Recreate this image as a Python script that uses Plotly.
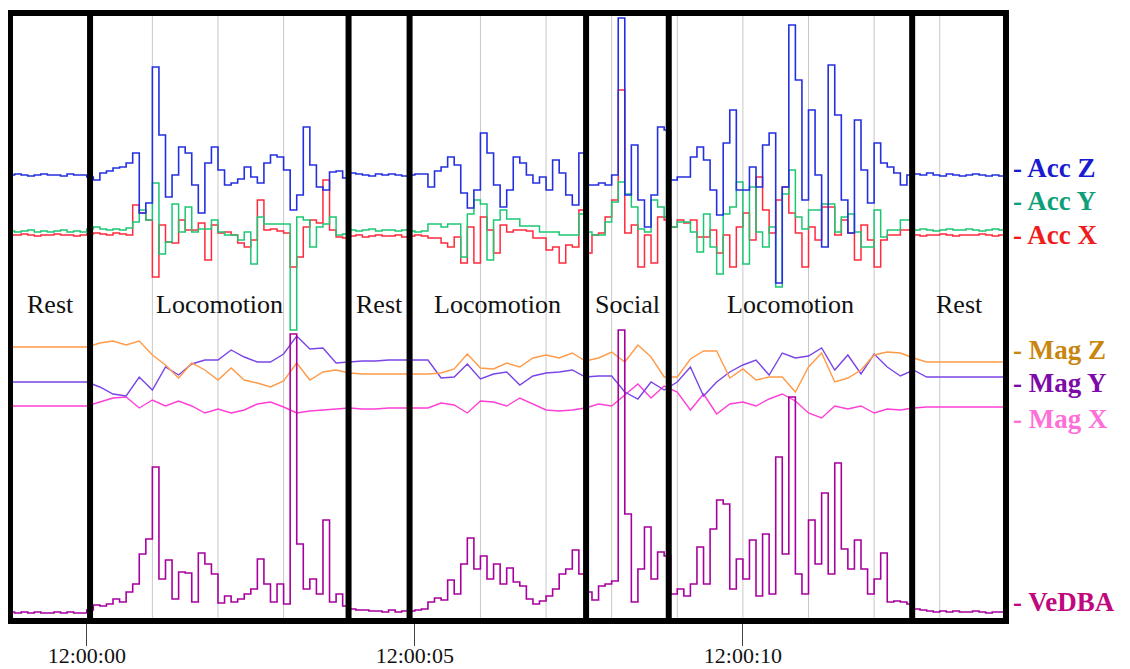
import plotly.graph_objects as go

# ---------------- data ----------------
# Fast channels sampled every 0.1 s starting at t = -1.2 s (relative to 12:00:00)
acc_z = [0, 1, 0, -1, 0, 1, 0, 0, -1, 1, 0, 0,
         -2, -5, 2, 4, 7, 8, 12, 22, -38, -28,
         108, 40, -22, 0, 28, 22, -10, -38, 12, 28,
         5, -10, -8, -4, 8, -2, -8, 12, 20, 18,
         5, -35, -20, 48, 10, -12, -15, 3, 4, -3,
         2, 1, 0, -1, 1, 0, 1, 0, -1, 0,
         1, 1, -12, 4, 8, 18, 10, -18, -33, -15,
         42, 22, -10, -32, -15, 18, 12, 0, -8, -2,
         -15, 15, 2, -20, -30, 22, -10, -10, -8, -10,
         0, 157, -20, 30, -25, -52, -20, 48, 45, -5,
         -2, -2, 18, 28, 15, -15, -40, 32, 65, -15,
         -15, 8, -12, 30, 42, -108, -12, 150, 95, -25,
         65, 0, -72, 110, 60, -25, -58, 55, 5, -28,
         32, 12, 8, 2, -10, 0,
         1, 0, 2, 0, -1, 1, 0, -1, 0, 1, 0, -1, 0, -1, -2]

acc_y = [1, 0, 1, 2, 0, 1, 0, 1, 2, 0, 1, 0,
         3, 5, 3, 2, 3, 2, 4, 10, 22, 12,
         49, -22, -10, 28, 0, 25, 0, 3, 3, 12,
         0, -3, -3, -8, 0, -32, 15, 8, 8, 8,
         8, -98, 15, 12, -15, 5, 8, 15, -3, -2,
         2, 1, 2, 3, 1, 2, 2, 1, 2, 1,
         0, 1, 8, 8, 5, 8, 8, -25, 18, 32,
         28, -28, 12, 22, 13, 13, 6, 6, 6, 0,
         0, 0, -3, -3, -3, 18, 0, -3, -3, 10,
         30, 50, 38, 25, 3, 0, 32, 25, 15, 5,
         10, 10, 0, -20, 18, -15, -42, 18, 25, 50,
         -32, 45, 0, -15, 5, -55, 38, 62, 15, 3,
         22, 22, 28, 28, 0, 15, 18, 0, -15, -15,
         22, -5, 2, 2, 12, 12,
         2, 3, 2, 1, 2, 3, 2, 2, 3, 2, 1, 2, 3, 2, 2]

acc_x = [0, 0, 1, 0, -1, 0, 0, 1, 0, 0, -1, 0,
         1, 2, 1, 0, 2, 1, 0, 30, 22, 15,
         -42, 10, -7, -8, 15, 5, 5, 12, -25, 10,
         2, 3, 0, -8, -12, -5, 35, 5, 6, 4,
         2, -32, -22, 8, 15, 12, 55, 5, -2, -3,
         -1, 0, -2, -1, 0, -1, -1, 0, -2, -1,
         0, -1, -3, -3, -8, -12, -2, -28, 8, -28,
         18, 5, -18, 10, 3, 5, 5, 4, -3, -3,
         -15, -12, -28, -10, -12, 25, -18, 0, 2, 18,
         35, 145, 2, 10, -32, 0, -28, 18, 15, 8,
         15, 12, 15, -2, -2, 5, -18, 0, -32, 8,
         22, -5, 58, 25, 2, 35, 48, 22, 2, -32,
         8, -5, 28, 28, 0, 15, 2, -25, 10, -5,
         -32, -5, 0, 0, 5, 5,
         0, -1, 0, 0, 1, 0, -1, 0, 0, 0, 1, 0, -1, 0, 0]

vedba = [2, 1, 2, 1, 2, 1, 1, 2, 1, 2, 1, 1,
         4, 9, 8, 10, 15, 12, 22, 30, 60, 75,
         147, 35, 54, 15, 42, 41, 12, 61, 50, 40,
         11, 18, 12, 15, 20, 25, 55, 30, 12, 30,
         10, 280, 70, 25, 35, 20, 94, 12, 20, 8,
         5, 4, 4, 3, 3, 2, 4, 2, 3, 3,
         4, 5, 12, 16, 14, 34, 20, 50, 76, 45,
         58, 35, 50, 30, 46, 32, 28, 15, 10, 13,
         18, 25, 40, 45, 64, 40, 22, 14, 28, 30,
         33, 284, 100, 12, 45, 87, 35, 62, 58, 20,
         25, 18, 30, 67, 30, 85, 114, 110, 25, 55,
         35, 74, 18, 80, 20, 157, 60, 217, 40, 20,
         94, 50, 121, 40, 151, 65, 45, 74, 45, 20,
         35, 61, 12, 13, 12, 10,
         5, 4, 3, 2, 3, 2, 3, 2, 2, 3, 2, 1, 2, 2, 1]

# Slow (magnetometer) channels sampled every 0.2 s starting at t = -1.2 s
mag_z = [0, 0, 0, 0, 0, 0, 0, 4, 6, 2,
         6, -8, -18, -31, -16, -23, -33, -21, -33, -36,
         -40, -34, -16, -33, -25, -23, -26, -27, -27, -27,
         -27, -27, -27, -26, -22, -7, -21, -22, -16, -20,
         -11, -8, -11, -6, -14, -11, -5, -15, 2, -10,
         -30, -30, -12, -4, -4, -31, -22, -33, -30, -30,
         -45, -20, -6, -35, -31, -23, -8, -5, -6, -11,
         -15, -15, -15, -15, -15, -15, -15]

mag_y = [0, 0, 0, 0, 0, 0, 0, -5, -12, -14,
         5, -8, 15, 7, 18, 22, 22, 32, 25, 20,
         20, 28, 46, 33, 34, 19, 20, 21, 21, 22,
         22, 22, 22, 4, 5, 18, 3, 8, 10, -3,
         6, 9, 10, 12, 5, 6, 6, -10, -17, 0,
         -8, 0, 15, -14, 0, 10, 17, 22, 7, 29,
         24, 26, 34, 12, 27, 8, 28, 15, 6, 12,
         5, 5, 5, 5, 5, 5, 5]

mag_x = [0, 0, 0, 0, 0, 0, 0, 4, 8, 9,
         -2, 6, 0, 5, 0, -7, -3, -7, -4, 2,
         4, -1, -7, -5, -4, -3, -2, -3, -3, -2,
         -2, -2, -2, 3, 1, -7, 5, 4, 0, 8,
         2, -4, -5, -4, -2, 2, 0, 11, 22, 8,
         20, 14, -4, 12, -8, 2, 4, 0, 7, 12,
         5, -7, -12, 0, -3, 0, -7, -3, -4, -2,
         -1, -1, -1, -1, -1, -1, -1]

# Behaviour segments (seconds after 12:00:00)
segment_bounds = [0.05, 3.99, 4.92, 7.61, 8.87, 12.58]
segment_names = ["Rest", "Locomotion", "Rest", "Locomotion", "Social", "Locomotion", "Rest"]

tick_vals = [0, 5, 10]
tick_text = ["12:00:00", "12:00:05", "12:00:10"]
grid_seconds = [1, 2, 3, 4, 6, 7, 8, 9, 10, 11, 12, 13]

# ---------------- display settings ----------------
T0 = -1.2
DT_FAST = 0.1
DT_SLOW = 0.2
X_RANGE = [-1.17, 14.01]
Y_RANGE = [0, 608]
SERIF = "Liberation Serif"

t_fast = [T0 + DT_FAST * i for i in range(len(acc_z))]
t_slow = [T0 + DT_SLOW * j for j in range(len(mag_z))]

# stacking offsets of each channel in the display
offsets = {"Mag X": 215, "Mag Y": 239, "Mag Z": 274,
           "Acc X": 386, "Acc Y": 389, "Acc Z": 446, "VeDBA": 7}

channels = [
    ("Mag X", t_slow, mag_x, "#ff3fd6", "linear", 1.4),
    ("Mag Y", t_slow, mag_y, "#7a45e6", "linear", 1.4),
    ("Mag Z", t_slow, mag_z, "#ff9a48", "linear", 1.4),
    ("Acc X", t_fast, acc_x, "#ff2a3c", "hv", 1.5),
    ("Acc Y", t_fast, acc_y, "#1cc774", "hv", 1.5),
    ("Acc Z", t_fast, acc_z, "#2430e0", "hv", 1.6),
    ("VeDBA", t_fast, vedba, "#a8009e", "hv", 1.6),
]

fig = go.Figure()
for name, t, vals, color, shape, width in channels:
    fig.add_trace(go.Scatter(
        x=t, y=[offsets[name] + v for v in vals], mode="lines", name=name,
        line=dict(color=color, width=width, shape=shape), showlegend=False,
        hoverinfo="skip"))

shapes = []
for s in grid_seconds:
    shapes.append(dict(type="line", xref="x", yref="paper", x0=s, x1=s, y0=0, y1=1,
                       line=dict(color="#c8c8c8", width=1), layer="below"))
for b in segment_bounds:
    shapes.append(dict(type="line", xref="x", yref="paper", x0=b, x1=b, y0=0, y1=1,
                       line=dict(color="black", width=6), layer="above"))
shapes.append(dict(type="rect", xref="paper", yref="paper", x0=0, x1=1, y0=0, y1=1,
                   line=dict(color="black", width=6), layer="above"))

annotations = []
edges = [X_RANGE[0]] + segment_bounds + [X_RANGE[1]]
for k, name in enumerate(segment_names):
    annotations.append(dict(x=(edges[k] + edges[k + 1]) / 2, y=317, xref="x", yref="y",
                            text=name, showarrow=False,
                            font=dict(family=SERIF, size=26, color="#111111")))

right_labels = [
    ("Acc Z", 453, "#1a1ad0"),
    ("Acc Y", 420, "#0e9e7a"),
    ("Acc X", 386, "#f01c1c"),
    ("Mag Z", 271, "#c8860e"),
    ("Mag Y", 238, "#7e0aa8"),
    ("Mag X", 202, "#ff6fd8"),
    ("VeDBA", 19, "#c0087e"),
]
for text, ypos, color in right_labels:
    annotations.append(dict(x=1, y=ypos, xref="paper", yref="y", xanchor="left",
                            xshift=5, text="<b>- " + text + "</b>", showarrow=False,
                            font=dict(family=SERIF, size=27, color=color)))

# the page body adds an 8 px margin, so the figure is sized to fit inside the window
fig.update_layout(
    width=1122, height=661,
    margin=dict(l=2, r=124, t=5, b=48, autoexpand=False),
    paper_bgcolor="white", plot_bgcolor="white",
    shapes=shapes, annotations=annotations,
    xaxis=dict(range=X_RANGE, showgrid=False, zeroline=False, showline=False,
               automargin=False,
               tickvals=tick_vals, ticktext=tick_text, ticks="outside",
               ticklen=24, tickwidth=1.2, tickcolor="#444444",
               ticklabelstandoff=-9,
               tickfont=dict(family=SERIF, size=22, color="#111111")),
    yaxis=dict(range=Y_RANGE, showgrid=False, zeroline=False, showline=False,
               automargin=False, showticklabels=False, ticks=""),
)

fig.write_html("out.html")
